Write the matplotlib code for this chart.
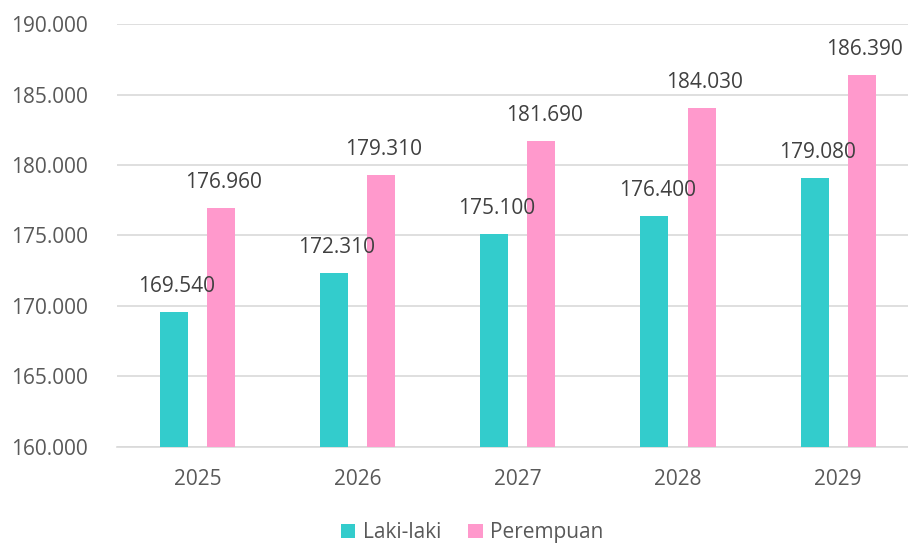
import numpy as np
import matplotlib.pyplot as plt

years = ['2025', '2026', '2027', '2028', '2029']
laki = [169540, 172310, 175100, 176400, 179080]
perempuan = [176960, 179310, 181690, 184030, 186390]


def fmt(v):
    return f'{v:,.0f}'.replace(',', '.')


plt.rcParams['font.family'] = ['Open Sans', 'DejaVu Sans']

fig = plt.figure(figsize=(9.08, 5.43), dpi=100)
ax = fig.add_axes([0.1293, 0.1768, 0.882, 0.779])

x = np.arange(len(years))
w = 0.175
off = 0.147
b1 = ax.bar(x - off, laki, w, color='#33CCCC', label='Laki-laki', zorder=3)
b2 = ax.bar(x + off, perempuan, w, color='#FF99CC', label='Perempuan', zorder=3)

for bars, vals in ((b1, laki), (b2, perempuan)):
    for r, v in zip(bars, vals):
        ax.annotate(fmt(v), (r.get_x() + r.get_width() / 2, v),
                    xytext=(2, 18.5), textcoords='offset points',
                    ha='center', va='center', fontsize=15, color='#404040',
                    zorder=4)

ax.set_ylim(160000, 190000)
ax.set_xlim(-0.5, len(years) - 0.5)
ax.set_yticks(np.arange(160000, 190001, 5000))
ax.set_yticklabels([fmt(v) for v in np.arange(160000, 190001, 5000)])
ax.set_xticks(x)
ax.set_xticklabels(years)
ax.tick_params(axis='both', length=0, labelsize=15, labelcolor='#595959')
ax.tick_params(axis='y', pad=21)
ax.tick_params(axis='x', pad=16)
ax.grid(axis='y', color='#D9D9D9', linewidth=1.2, zorder=0)
for s in ['top', 'right', 'left']:
    ax.spines[s].set_visible(False)
ax.spines['bottom'].set_color('#D9D9D9')
ax.spines['bottom'].set_linewidth(1.2)

leg = fig.legend(loc='center', bbox_to_anchor=(0.52, 0.019), ncol=2,
                 frameon=False, fontsize=15, handlelength=0.7, handleheight=0.7,
                 handletextpad=0.35, columnspacing=1.3, borderpad=0)
for t in leg.get_texts():
    t.set_color('#595959')

fig.savefig('out.png', dpi=100)
